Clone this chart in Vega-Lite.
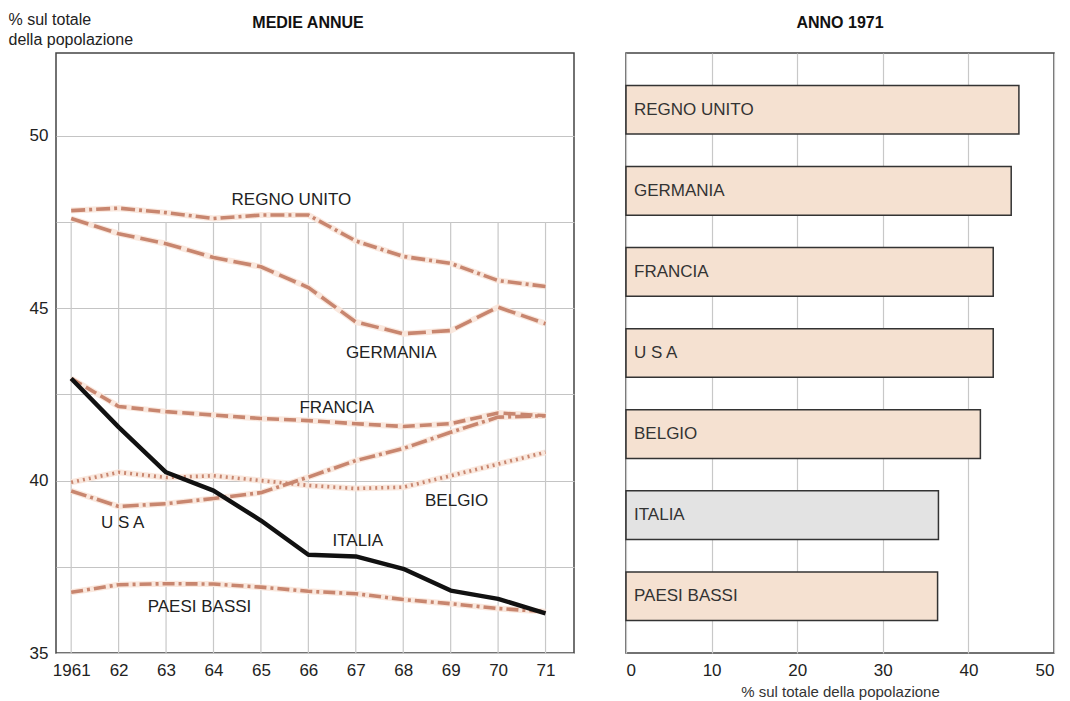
{
  "$schema": "https://vega.github.io/schema/vega-lite/v6.json",
  "background": "#ffffff",
  "padding": {"left": 7, "top": 10, "right": 5, "bottom": 5},
  "config": {
    "view": {"stroke": "#444444", "strokeWidth": 1.5},
    "font": "Liberation Sans",
    "concat": {"spacing": 52},
    "title": {"font": "Liberation Sans", "fontSize": 16, "fontWeight": "bold", "color": "#111111", "offset": 22}
  },
  "bounds": "flush",
  "resolve": {"scale": {"color": "independent", "strokeDash": "independent"}},
  "datasets": {
    "series": [
      {"paese": "REGNO UNITO", "anno": 1961, "valore": 47.83},
      {"paese": "REGNO UNITO", "anno": 1962, "valore": 47.9},
      {"paese": "REGNO UNITO", "anno": 1963, "valore": 47.77},
      {"paese": "REGNO UNITO", "anno": 1964, "valore": 47.6},
      {"paese": "REGNO UNITO", "anno": 1965, "valore": 47.7},
      {"paese": "REGNO UNITO", "anno": 1966, "valore": 47.7},
      {"paese": "REGNO UNITO", "anno": 1967, "valore": 46.95},
      {"paese": "REGNO UNITO", "anno": 1968, "valore": 46.5},
      {"paese": "REGNO UNITO", "anno": 1969, "valore": 46.3},
      {"paese": "REGNO UNITO", "anno": 1970, "valore": 45.8},
      {"paese": "REGNO UNITO", "anno": 1971, "valore": 45.63},
      {"paese": "GERMANIA", "anno": 1961, "valore": 47.6},
      {"paese": "GERMANIA", "anno": 1962, "valore": 47.16},
      {"paese": "GERMANIA", "anno": 1963, "valore": 46.87},
      {"paese": "GERMANIA", "anno": 1964, "valore": 46.47},
      {"paese": "GERMANIA", "anno": 1965, "valore": 46.2},
      {"paese": "GERMANIA", "anno": 1966, "valore": 45.6},
      {"paese": "GERMANIA", "anno": 1967, "valore": 44.6},
      {"paese": "GERMANIA", "anno": 1968, "valore": 44.26},
      {"paese": "GERMANIA", "anno": 1969, "valore": 44.35},
      {"paese": "GERMANIA", "anno": 1970, "valore": 45.03},
      {"paese": "GERMANIA", "anno": 1971, "valore": 44.55},
      {"paese": "FRANCIA", "anno": 1961, "valore": 42.96},
      {"paese": "FRANCIA", "anno": 1962, "valore": 42.15},
      {"paese": "FRANCIA", "anno": 1963, "valore": 42.0},
      {"paese": "FRANCIA", "anno": 1964, "valore": 41.9},
      {"paese": "FRANCIA", "anno": 1965, "valore": 41.8},
      {"paese": "FRANCIA", "anno": 1966, "valore": 41.74},
      {"paese": "FRANCIA", "anno": 1967, "valore": 41.65},
      {"paese": "FRANCIA", "anno": 1968, "valore": 41.57},
      {"paese": "FRANCIA", "anno": 1969, "valore": 41.65},
      {"paese": "FRANCIA", "anno": 1970, "valore": 41.96},
      {"paese": "FRANCIA", "anno": 1971, "valore": 41.88},
      {"paese": "U S A", "anno": 1961, "valore": 39.7},
      {"paese": "U S A", "anno": 1962, "valore": 39.25},
      {"paese": "U S A", "anno": 1963, "valore": 39.33},
      {"paese": "U S A", "anno": 1964, "valore": 39.48},
      {"paese": "U S A", "anno": 1965, "valore": 39.65},
      {"paese": "U S A", "anno": 1966, "valore": 40.1},
      {"paese": "U S A", "anno": 1967, "valore": 40.58},
      {"paese": "U S A", "anno": 1968, "valore": 40.93},
      {"paese": "U S A", "anno": 1969, "valore": 41.4},
      {"paese": "U S A", "anno": 1970, "valore": 41.84},
      {"paese": "U S A", "anno": 1971, "valore": 41.88},
      {"paese": "BELGIO", "anno": 1961, "valore": 39.95},
      {"paese": "BELGIO", "anno": 1962, "valore": 40.24},
      {"paese": "BELGIO", "anno": 1963, "valore": 40.09},
      {"paese": "BELGIO", "anno": 1964, "valore": 40.14},
      {"paese": "BELGIO", "anno": 1965, "valore": 40.0},
      {"paese": "BELGIO", "anno": 1966, "valore": 39.86},
      {"paese": "BELGIO", "anno": 1967, "valore": 39.77},
      {"paese": "BELGIO", "anno": 1968, "valore": 39.81},
      {"paese": "BELGIO", "anno": 1969, "valore": 40.14},
      {"paese": "BELGIO", "anno": 1970, "valore": 40.48},
      {"paese": "BELGIO", "anno": 1971, "valore": 40.82},
      {"paese": "ITALIA", "anno": 1961, "valore": 42.96},
      {"paese": "ITALIA", "anno": 1962, "valore": 41.55},
      {"paese": "ITALIA", "anno": 1963, "valore": 40.24},
      {"paese": "ITALIA", "anno": 1964, "valore": 39.71},
      {"paese": "ITALIA", "anno": 1965, "valore": 38.84},
      {"paese": "ITALIA", "anno": 1966, "valore": 37.85},
      {"paese": "ITALIA", "anno": 1967, "valore": 37.8},
      {"paese": "ITALIA", "anno": 1968, "valore": 37.44},
      {"paese": "ITALIA", "anno": 1969, "valore": 36.81},
      {"paese": "ITALIA", "anno": 1970, "valore": 36.57},
      {"paese": "ITALIA", "anno": 1971, "valore": 36.15},
      {"paese": "PAESI BASSI", "anno": 1961, "valore": 36.76},
      {"paese": "PAESI BASSI", "anno": 1962, "valore": 36.98},
      {"paese": "PAESI BASSI", "anno": 1963, "valore": 37.01},
      {"paese": "PAESI BASSI", "anno": 1964, "valore": 37.0},
      {"paese": "PAESI BASSI", "anno": 1965, "valore": 36.91},
      {"paese": "PAESI BASSI", "anno": 1966, "valore": 36.79},
      {"paese": "PAESI BASSI", "anno": 1967, "valore": 36.72},
      {"paese": "PAESI BASSI", "anno": 1968, "valore": 36.55},
      {"paese": "PAESI BASSI", "anno": 1969, "valore": 36.43},
      {"paese": "PAESI BASSI", "anno": 1970, "valore": 36.29},
      {"paese": "PAESI BASSI", "anno": 1971, "valore": 36.2}
    ],
    "barre": [
      {"paese": "REGNO UNITO", "valore": 45.9},
      {"paese": "GERMANIA", "valore": 45.0},
      {"paese": "FRANCIA", "valore": 42.9},
      {"paese": "U S A", "valore": 42.9},
      {"paese": "BELGIO", "valore": 41.4},
      {"paese": "ITALIA", "valore": 36.5},
      {"paese": "PAESI BASSI", "valore": 36.4}
    ]
  },
  "hconcat": [
    {
      "width": 518,
      "height": 600,
      "title": {"text": "MEDIE ANNUE", "dx": -7, "dy": 42},
      "data": {"name": "series"},
      "encoding": {
        "x": {
          "field": "anno", "type": "quantitative",
          "scale": {"domain": [1960.68, 1971.6], "nice": false, "zero": false},
          "axis": {
            "values": [1961, 1962, 1963, 1964, 1965, 1966, 1967, 1968, 1969, 1970, 1971],
            "grid": false, "ticks": false, "domain": false,
            "labelExpr": "datum.value == 1961 ? '1961' : slice(toString(datum.value), 2)",
            "labelFont": "Liberation Sans", "labelFontSize": 17, "labelColor": "#222222",
            "labelPadding": 9, "title": null
          }
        },
        "y": {
          "field": "valore", "type": "quantitative",
          "scale": {"domain": [35, 52.4], "nice": false, "zero": false},
          "axis": {
            "values": [35, 37.5, 40, 42.5, 45, 47.5, 50],
            "grid": true, "gridColor": "#c4c4c4", "gridWidth": 1.2,
            "ticks": false, "domain": false,
            "labelExpr": "datum.value % 5 == 0 ? datum.label : ''",
            "labelFont": "Liberation Sans", "labelFontSize": 17, "labelColor": "#222222",
            "labelPadding": 8,
            "title": ["% sul totale", "della popolazione"],
            "titleAngle": 0, "titleAlign": "left", "titleBaseline": "top",
            "titleX": -48, "titleY": -42,
            "titleFont": "Liberation Sans", "titleFontSize": 16, "titleFontWeight": "normal",
            "titleColor": "#222222", "titleLineHeight": 20
          }
        }
      },
      "layer": [
        {
          "transform": [{"filter": "datum.paese == 'ITALIA'"}],
          "mark": {"type": "rule", "color": "#c8c8c8", "strokeWidth": 1.2},
          "encoding": {
            "y": {"datum": 35},
            "y2": {"datum": 47.5}
          }
        },
        {
          "transform": [{"filter": "datum.paese != 'ITALIA'"}],
          "mark": {"type": "line", "strokeWidth": 6, "color": "#f9e6da", "opacity": 0.9},
          "encoding": {"detail": {"field": "paese"}}
        },
        {
          "transform": [{"filter": "datum.paese != 'ITALIA'"}],
          "mark": {"type": "line", "strokeWidth": 3.6, "strokeCap": "butt"},
          "encoding": {
            "color": {
              "field": "paese", "type": "nominal", "legend": null,
              "scale": {
                "domain": ["REGNO UNITO", "GERMANIA", "FRANCIA", "U S A", "BELGIO", "PAESI BASSI"],
                "range": ["#c8866f", "#c8866f", "#c8866f", "#c8866f", "#c8866f", "#c8866f"]
              }
            },
            "strokeDash": {
              "field": "paese", "type": "nominal", "legend": null,
              "scale": {
                "domain": ["REGNO UNITO", "GERMANIA", "FRANCIA", "U S A", "BELGIO", "PAESI BASSI"],
                "range": [[14, 4, 3, 4], [18, 6], [12, 5], [16, 4, 3, 4], [2, 4], [12, 4, 3, 4]]
              }
            },
            "detail": {"field": "paese"}
          }
        },
        {
          "transform": [{"filter": "datum.paese == 'ITALIA'"}],
          "mark": {"type": "line", "strokeWidth": 4.4, "color": "#111111", "strokeJoin": "round"},
          "encoding": {"detail": {"field": "paese"}}
        },
        {
          "transform": [{"filter": "datum.paese == 'REGNO UNITO' && datum.anno == 1966"}],
          "mark": {"type": "text", "fontSize": 17, "color": "#222222", "dx": -17, "dy": -15},
          "encoding": {"text": {"field": "paese"}}
        },
        {
          "transform": [{"filter": "datum.paese == 'GERMANIA' && datum.anno == 1968"}],
          "mark": {"type": "text", "fontSize": 17, "color": "#222222", "dx": -12, "dy": 19},
          "encoding": {"text": {"field": "paese"}}
        },
        {
          "transform": [{"filter": "datum.paese == 'FRANCIA' && datum.anno == 1967"}],
          "mark": {"type": "text", "fontSize": 17, "color": "#222222", "dx": -19, "dy": -16},
          "encoding": {"text": {"field": "paese"}}
        },
        {
          "transform": [{"filter": "datum.paese == 'BELGIO' && datum.anno == 1969"}],
          "mark": {"type": "text", "fontSize": 17, "color": "#222222", "dx": 6, "dy": 25},
          "encoding": {"text": {"field": "paese"}}
        },
        {
          "transform": [{"filter": "datum.paese == 'ITALIA' && datum.anno == 1967"}],
          "mark": {"type": "text", "fontSize": 17, "color": "#222222", "dx": 2, "dy": -15},
          "encoding": {"text": {"field": "paese"}}
        },
        {
          "transform": [{"filter": "datum.paese == 'U S A' && datum.anno == 1962"}],
          "mark": {"type": "text", "fontSize": 17, "color": "#222222", "dx": 4, "dy": 17},
          "encoding": {"text": {"field": "paese"}}
        },
        {
          "transform": [{"filter": "datum.paese == 'PAESI BASSI' && datum.anno == 1964"}],
          "mark": {"type": "text", "fontSize": 17, "color": "#222222", "dx": -14, "dy": 23},
          "encoding": {"text": {"field": "paese"}}
        }
      ]
    },
    {
      "width": 428,
      "height": 600,
      "title": {"text": "ANNO 1971"},
      "data": {"name": "barre"},
      "encoding": {
        "y": {
          "field": "paese", "type": "nominal", "sort": null,
          "scale": {"paddingInner": 0.4, "paddingOuter": 0.4},
          "axis": null
        }
      },
      "layer": [
        {
          "mark": {"type": "bar", "stroke": "#333333", "strokeWidth": 1.5},
          "encoding": {
            "x": {
              "field": "valore", "type": "quantitative",
              "scale": {"domain": [0, 50], "nice": false},
              "axis": {
                "values": [0, 10, 20, 30, 40, 50],
                "grid": true, "gridColor": "#c8c8c8", "gridWidth": 1.2,
                "ticks": false, "domain": false,
                "labelFont": "Liberation Sans", "labelFontSize": 17, "labelColor": "#222222",
                "labelPadding": 9,
                "title": "% sul totale della popolazione",
                "titleFont": "Liberation Sans", "titleFontSize": 15, "titleFontWeight": "normal",
                "titleColor": "#333333", "titlePadding": 6
              }
            },
            "color": {
              "field": "paese", "type": "nominal", "legend": null,
              "scale": {
                "domain": ["REGNO UNITO", "GERMANIA", "FRANCIA", "U S A", "BELGIO", "ITALIA", "PAESI BASSI"],
                "range": ["#f5e1d1", "#f5e1d1", "#f5e1d1", "#f5e1d1", "#f5e1d1", "#e3e3e3", "#f5e1d1"]
              }
            }
          }
        },
        {
          "mark": {"type": "text", "align": "left", "baseline": "middle", "dx": 8, "fontSize": 17, "color": "#333333"},
          "encoding": {
            "x": {"datum": 0},
            "text": {"field": "paese"}
          }
        }
      ]
    }
  ]
}
